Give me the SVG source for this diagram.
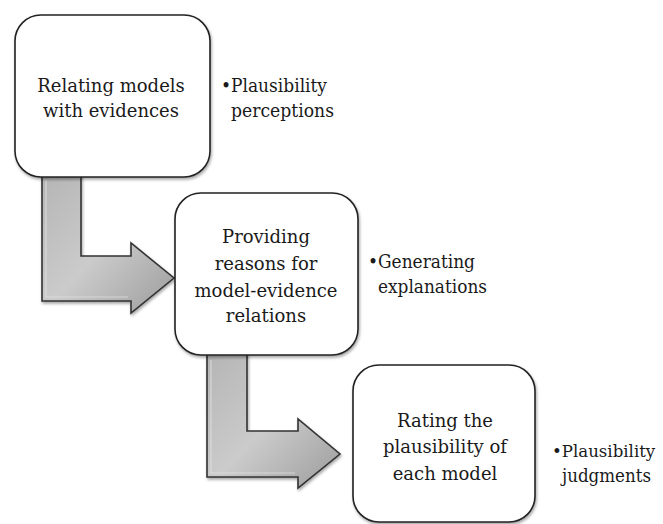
<svg xmlns="http://www.w3.org/2000/svg" width="663" height="524" viewBox="0 0 663 524">
<style>
.box{fill:#fff;stroke:#222;stroke-width:1.6}
.arrow{fill:url(#ag);stroke:#333;stroke-width:1.6;stroke-linejoin:miter}
.arrow-in{fill:none;stroke:#e2e2e2;stroke-width:1.2;opacity:0.7}
.t{fill:#1a1a1a;text-anchor:middle}
.b{fill:#1a1a1a}
</style>
<defs>
<linearGradient id="ag" x1="0" y1="0" x2="1" y2="1">
<stop offset="0" stop-color="#b4b4b4"/>
<stop offset="0.5" stop-color="#cbcbcb"/>
<stop offset="1" stop-color="#9c9c9c"/>
</linearGradient>
<filter id="sh" x="-10%" y="-10%" width="130%" height="130%">
<feGaussianBlur in="SourceAlpha" stdDeviation="1.5"/>
<feOffset dx="1" dy="2" result="o"/>
<feComponentTransfer><feFuncA type="linear" slope="0.35"/></feComponentTransfer>
<feMerge><feMergeNode/><feMergeNode in="SourceGraphic"/></feMerge>
</filter>
</defs>
<rect width="663" height="524" fill="#fff"/>
<g id="connectors">
<path class="arrow" filter="url(#sh)" d="M42,170 L81,170 L81,256 L131,256 L131,243 L174,278 L131,313 L131,301 L42,301 Z"/>
<path class="arrow-in" d="M46,180 L46,297 L128,297"/>
<path class="arrow" filter="url(#sh)" d="M207,350 L247,350 L247,431 L298,431 L298,419 L340,454 L298,488 L298,477 L207,477 Z"/>
<path class="arrow-in" d="M211,360 L211,473 L295,473"/>
</g>
<g font-family="'DejaVu Serif', serif" font-size="18">
<g id="node1">
<rect class="box" filter="url(#sh)" x="15" y="15" width="195" height="162" rx="26"/>
<text class="t" x="111" y="92">Relating models</text>
<text class="t" x="111" y="117">with evidences</text>
</g>
<g id="note1">
<text class="b" x="221" y="92" textLength="106" lengthAdjust="spacingAndGlyphs">•Plausibility</text>
<text class="b" x="231" y="117" textLength="103" lengthAdjust="spacingAndGlyphs">perceptions</text>
</g>
<g id="node2">
<rect class="box" filter="url(#sh)" x="175" y="193" width="183" height="162" rx="26"/>
<text class="t" x="266" y="243">Providing</text>
<text class="t" x="266" y="270">reasons for</text>
<text class="t" x="266" y="297">model-evidence</text>
<text class="t" x="266" y="322">relations</text>
</g>
<g id="note2">
<text class="b" x="368" y="268" textLength="107" lengthAdjust="spacingAndGlyphs">•Generating</text>
<text class="b" x="378" y="293" textLength="109" lengthAdjust="spacingAndGlyphs">explanations</text>
</g>
<g id="node3">
<rect class="box" filter="url(#sh)" x="353" y="365" width="182" height="157" rx="26"/>
<text class="t" x="445" y="427">Rating the</text>
<text class="t" x="445" y="453">plausibility of</text>
<text class="t" x="445" y="480">each model</text>
</g>
<g id="note3">
<text class="b" x="552" y="457" font-size="16.6">•Plausibility</text>
<text class="b" x="562" y="482" textLength="89" lengthAdjust="spacingAndGlyphs">judgments</text>
</g>
</g>
</svg>
